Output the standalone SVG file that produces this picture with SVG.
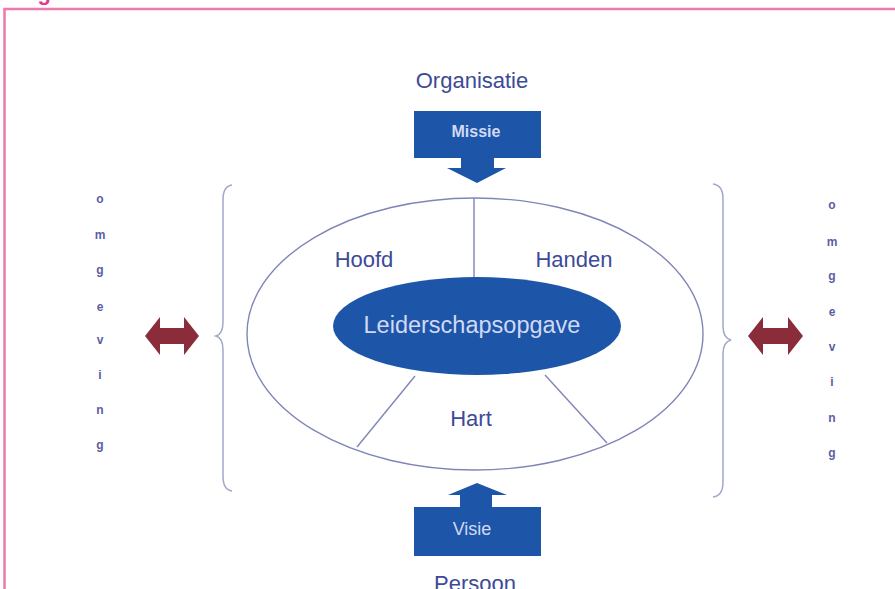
<svg xmlns="http://www.w3.org/2000/svg" width="895" height="589" viewBox="0 0 895 589">
  <style>
    .label { font-family: "Liberation Sans", Arial, sans-serif; fill: #3d4a97; text-anchor: middle; }
    .big { font-size: 22px; }
    .inv { font-family: "Liberation Sans", Arial, sans-serif; fill: #d2d9f5; text-anchor: middle; }
    .letter { font-family: "Liberation Sans", Arial, sans-serif; font-size: 12px; font-weight: bold; fill: #5a60a3; text-anchor: middle; }
    .thin { fill: none; stroke: #8085b8; stroke-width: 1.4; }
    .brace { fill: none; stroke: #a2a7cc; stroke-width: 1.5; }
    .blue { fill: #1d56a8; }
    .dbl { fill: #8b2c3b; }
  </style>

  <rect width="895" height="589" fill="#ffffff"/>

  <!-- frame and heading -->
  <text x="18" y="0" font-family="'Liberation Sans', Arial, sans-serif" font-size="22" font-weight="bold" fill="#e8388e">Figuur</text>
  <path d="M 4.5 589 L 4.5 9 L 895 9" fill="none" stroke="#ec7aab" stroke-width="2.5"/>

  <!-- connectors -->
  <g id="connectors">
    <line class="thin" x1="474" y1="198" x2="474" y2="278"/>
    <line class="thin" x1="415" y1="376" x2="357" y2="447"/>
    <line class="thin" x1="545" y1="375" x2="607" y2="443"/>
    <!-- braces -->
    <path class="brace" d="M 232 185 Q 223 186 223 200 L 223 322 Q 223 334 216 336 Q 223 338 223 350 L 223 476 Q 223 490 232 491"/>
    <path class="brace" d="M 713 184 Q 723 185 723 199 L 723 326 Q 723 338 731 340 Q 723 342 723 354 L 723 482 Q 723 496 713 497"/>
    <!-- double arrows -->
    <path class="dbl" d="M 145 336 L 160 317 L 160 328 L 184 328 L 184 317 L 199 336 L 184 355 L 184 344 L 160 344 L 160 355 Z"/>
    <path class="dbl" d="M 748 336 L 763 317 L 763 328 L 788 328 L 788 317 L 803 336 L 788 355 L 788 344 L 763 344 L 763 355 Z"/>
  </g>

  <g id="organisatie">
    <text class="label big" x="472" y="88">Organisatie</text>
  </g>

  <g id="missie">
    <path class="blue" d="M 414 111 L 541 111 L 541 158 L 494 158 L 494 168 L 506 168 L 477 183 L 447 168 L 461 168 L 461 158 L 414 158 Z"/>
    <text class="inv" x="476" y="137" font-size="16" font-weight="bold">Missie</text>
  </g>

  <g id="outer">
    <ellipse cx="475" cy="334" rx="228" ry="136" class="thin"/>
  </g>

  <g id="hoofd">
    <text class="label big" x="364" y="267">Hoofd</text>
  </g>
  <g id="handen">
    <text class="label big" x="574" y="267">Handen</text>
  </g>
  <g id="hart">
    <text class="label big" x="471" y="426">Hart</text>
  </g>

  <g id="leiderschapsopgave">
    <ellipse class="blue" cx="477" cy="326" rx="144" ry="49"/>
    <text class="inv" x="472" y="333" font-size="23.5">Leiderschapsopgave</text>
  </g>

  <g id="visie">
    <path class="blue" d="M 414 507 L 460 507 L 460 495 L 448 495 L 477 483 L 507 495 L 492 495 L 492 507 L 541 507 L 541 556 L 414 556 Z"/>
    <text class="inv" x="472" y="535" font-size="18">Visie</text>
  </g>

  <g id="persoon">
    <text class="label big" x="475" y="591">Persoon</text>
  </g>

  <g id="omgeving-links">
    <text class="letter" x="100" y="203">o</text>
    <text class="letter" x="100" y="239">m</text>
    <text class="letter" x="100" y="274">g</text>
    <text class="letter" x="100" y="311">e</text>
    <text class="letter" x="100" y="344">v</text>
    <text class="letter" x="100" y="379">i</text>
    <text class="letter" x="100" y="414">n</text>
    <text class="letter" x="100" y="449">g</text>
  </g>

  <g id="omgeving-rechts">
    <text class="letter" x="832" y="209">o</text>
    <text class="letter" x="832" y="246">m</text>
    <text class="letter" x="832" y="280">g</text>
    <text class="letter" x="832" y="316">e</text>
    <text class="letter" x="832" y="351">v</text>
    <text class="letter" x="832" y="386">i</text>
    <text class="letter" x="832" y="422">n</text>
    <text class="letter" x="832" y="457">g</text>
  </g>
</svg>
